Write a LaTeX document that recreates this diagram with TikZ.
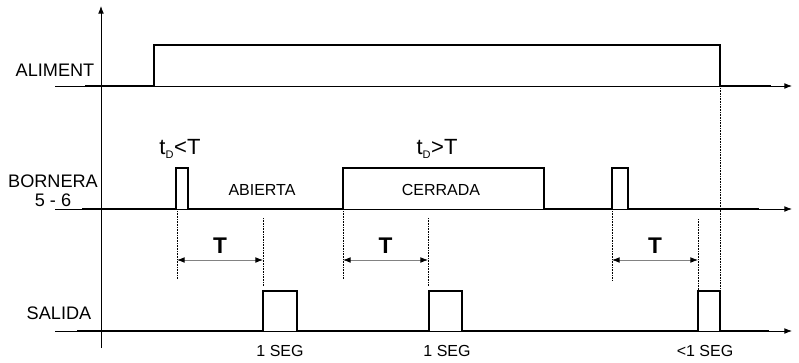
\documentclass[tikz,border=0pt]{standalone}
\usepackage{fontspec}
\setmainfont{Liberation Sans}
\usetikzlibrary{arrows.meta}
\definecolor{spangray}{RGB}{130,130,130}

\begin{document}
\begin{tikzpicture}[x=0.75pt, y=-0.75pt, >=Latex]
    \useasboundingbox (0,0) rectangle (799,362);
    \tikzset{
      axis/.style={line width=0.6pt},
      signal/.style={line width=2.2pt, line join=miter},
      guide/.style={line width=0.5pt, dash pattern=on 0.6pt off 0.6pt},
      span/.style={spangray, line width=0.6pt, {Latex[black]}-{Latex[black]}},
      rowname/.style={font=\fontsize{13.6}{15}\selectfont},
      lbl/.style={font=\fontsize{12}{14}\selectfont},
      big/.style={font=\fontsize{16.5}{18}\selectfont},
      spanlbl/.style={text=black, font=\fontsize{17}{19}\selectfont\bfseries}
    }
    % axes
    \draw[axis, ->] (101,348) -- (101,6);
    \draw[axis, ->] (55,86) -- (792,86);
    \draw[axis, ->] (55,209) -- (792,209);
    \draw[axis, ->] (55,331) -- (792,331);
    % row names
    \node[rowname] (aliment) at (55,70) {ALIMENT};
    \node[rowname] (bornera) at (53,181) {BORNERA};
    \node[rowname] (bornes) at (53,200) {5 - 6};
    \node[rowname] (salida) at (59,313) {SALIDA};
    % signals
    \draw[signal] (85,86) -- (154,86) -- (154,45) -- (720,45) -- (720,86) -- (771,86);
    \draw[signal] (82,209) -- (176,209) -- (176,168) -- (188,168) -- (188,209)
      -- (343,209) -- (343,168) -- (544,168) -- (544,209) -- (612,209)
      -- (612,168) -- (628,168) -- (628,209) -- (759,209);
    \draw[signal] (77,331) -- (263,331) -- (263,291) -- (297,291) -- (297,331)
      -- (429,331) -- (429,291) -- (462,291) -- (462,331) -- (698,331)
      -- (698,291) -- (720,291) -- (720,331) -- (769,331);
    % contact states
    \node[big] (short) at (180,149) {t$_{\scriptscriptstyle\mathrm{D}}$<T};
    \node[big] (long) at (437,149) {t$_{\scriptscriptstyle\mathrm{D}}$>T};
    \node[lbl] (abierta) at (262,190) {ABIERTA};
    \node[lbl] (cerrada) at (441,190) {CERRADA};
    % guide lines
    \coordinate (s1) at (177,279);
    \coordinate (e1) at (263,286);
    \coordinate (s2) at (343,279);
    \coordinate (e2) at (428,286);
    \coordinate (s3) at (612,280);
    \coordinate (e3) at (698,290);
    \coordinate (off) at (720,290);
    \draw[guide] (177,211) -- (s1);
    \draw[guide] (263,218) -- (e1);
    \draw[guide] (343,211) -- (s2);
    \draw[guide] (428,218) -- (e2);
    \draw[guide] (612,211) -- (s3);
    \draw[guide] (698,219) -- (e3);
    \draw[guide] (720,88) -- (off);
    % delays
    \draw[span] (177,260) -- (263,260) node[spanlbl, midway, yshift=10.5pt] (t1) {T};
    \draw[span] (343,260) -- (428,260) node[spanlbl, midway, yshift=10.5pt] (t2) {T};
    \draw[span] (612,260) -- (698,260) node[spanlbl, midway, yshift=10.5pt] (t3) {T};
    % output widths
    \node[lbl] (seg1) at (280,351) {1 SEG};
    \node[lbl] (seg2) at (447,351) {1 SEG};
    \node[lbl] (seg3) at (705,351) {<1 SEG};
  \end{tikzpicture}
\end{document}
